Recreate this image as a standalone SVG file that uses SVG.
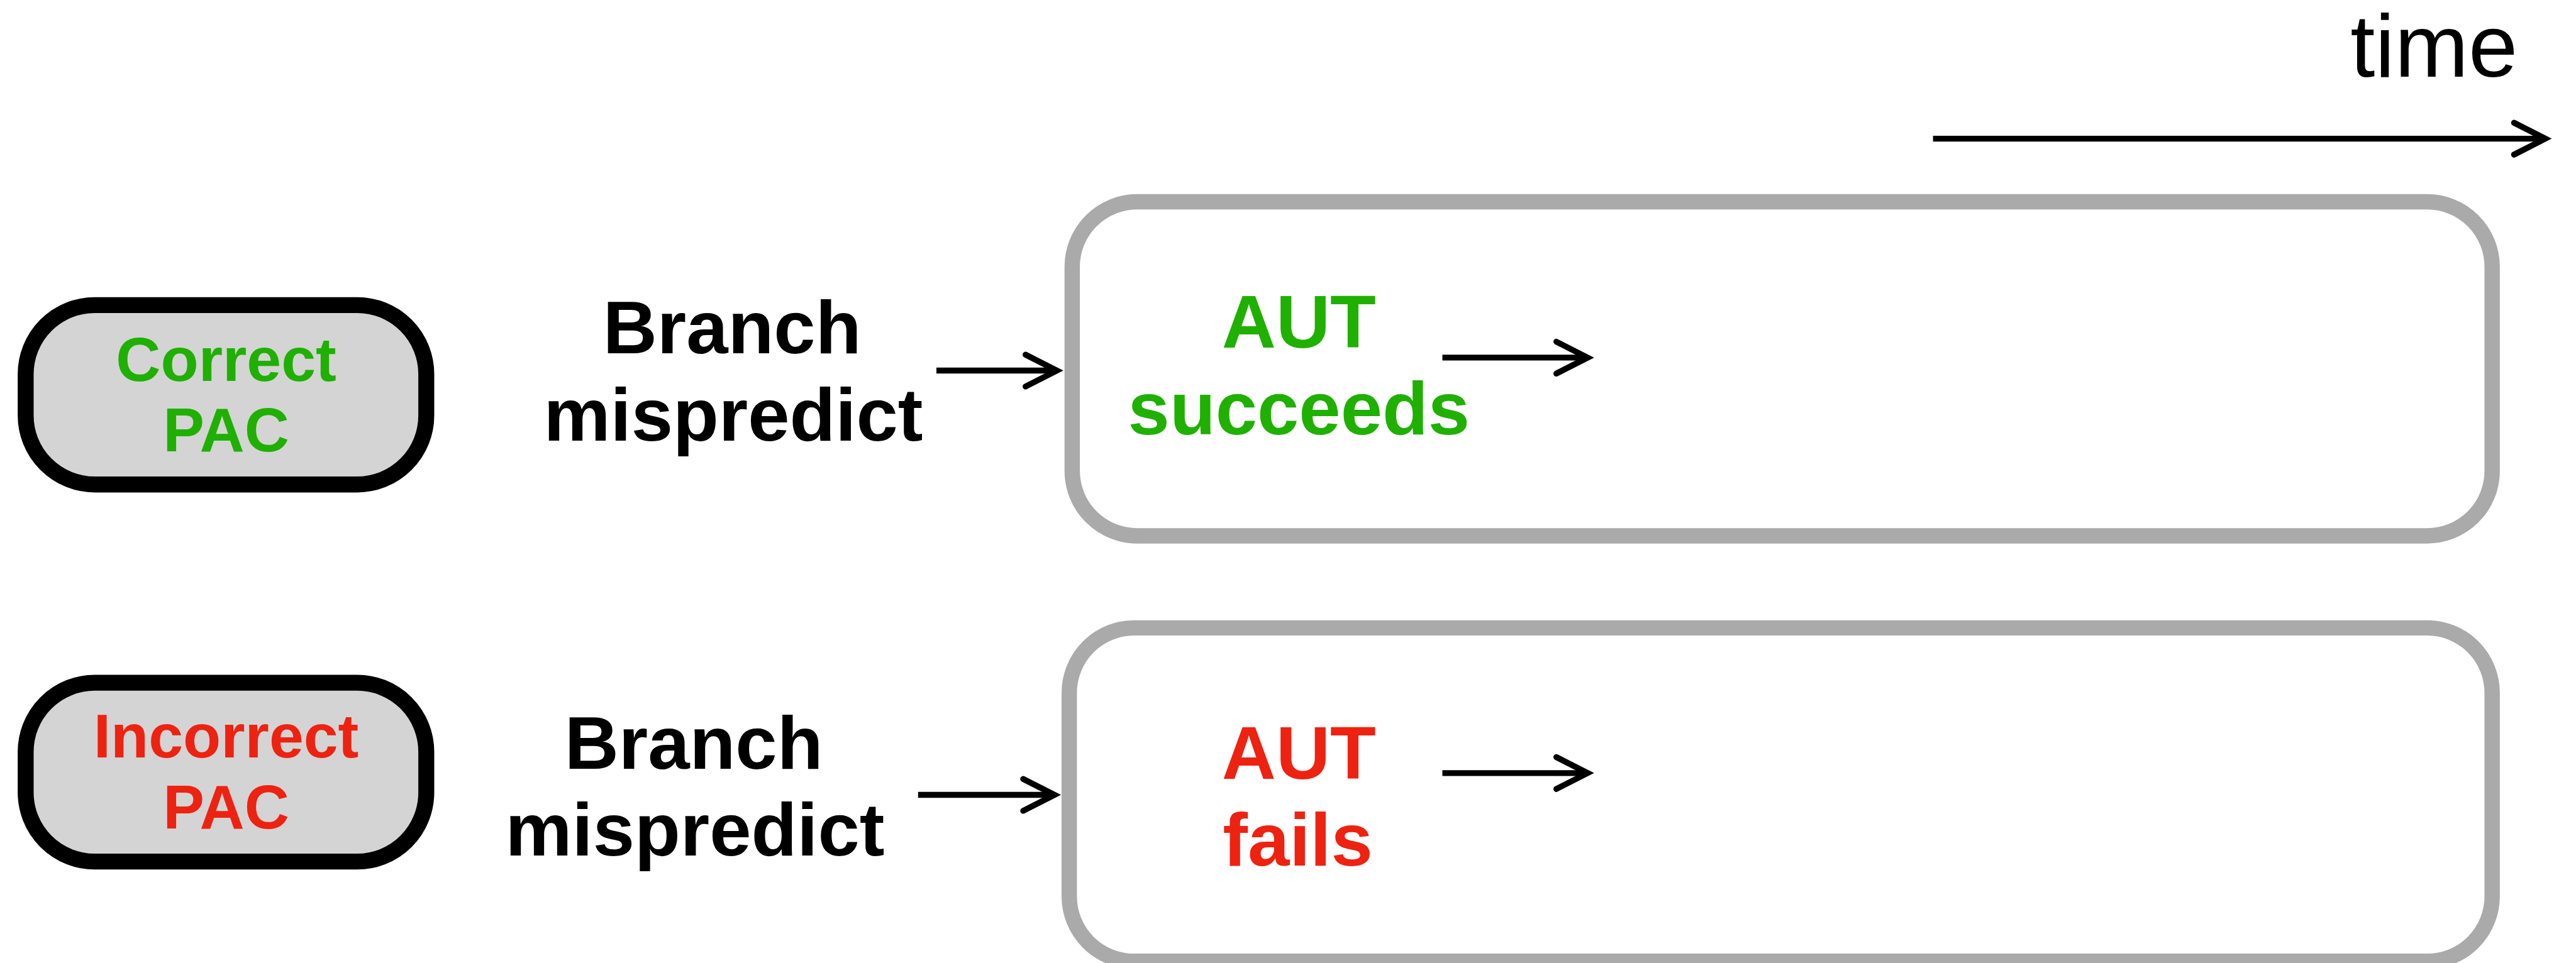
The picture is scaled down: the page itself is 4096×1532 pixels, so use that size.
<svg xmlns="http://www.w3.org/2000/svg" width="4096" height="1532" viewBox="0 0 4096 1532">
<style>
.pac{fill:#d4d4d4;stroke:#000;stroke-width:27}
.stage{fill:#fff;stroke:#aaaaaa;stroke-width:26}
.t{font-family:"Liberation Sans",Arial,sans-serif;font-weight:bold;text-anchor:middle}
.s105{font-size:105px}
.s127{font-size:127px}
.green{fill:#1fb000}
.red{fill:#ee2211}
.black{fill:#000}
.arr{stroke:#000;stroke-width:10;fill:none;marker-end:url(#chev)}
</style>
<defs>
<marker id="chev" viewBox="-8 -4 10 8" refX="0" refY="0" markerWidth="10" markerHeight="8" markerUnits="strokeWidth" orient="auto" overflow="visible">
<path d="M-5.3,-2.7 L0,0 L-5.3,2.7" fill="none" stroke="#000" stroke-width="1" stroke-linecap="round" stroke-linejoin="miter"/>
</marker>
</defs>
<rect width="4096" height="1532" fill="#fff"/>
<g transform="scale(0.93880)">
<g id="correct-pac">
<rect class="pac" x="43.5" y="517" width="678.5" height="304" rx="117" ry="117"/>
<text class="t s105 green" x="383" y="645">Correct</text>
<text class="t s105 green" x="383" y="765">PAC</text>
</g>
<g id="incorrect-pac">
<rect class="pac" x="43.5" y="1157" width="678.5" height="303" rx="117" ry="117"/>
<text class="t s105 red" x="383" y="1284">Incorrect</text>
<text class="t s105 red" x="383" y="1404">PAC</text>
</g>
<g id="label-top">
<text class="t s127 black" x="1240" y="599">Branch</text>
<text class="t s127 black" x="1242" y="747">mispredict</text>
</g>
<g id="label-bottom">
<text class="t s127 black" x="1175" y="1303">Branch</text>
<text class="t s127 black" x="1177" y="1450">mispredict</text>
</g>
<g id="stage-top">
<rect class="stage" x="1816" y="342" width="2405" height="566" rx="110" ry="110"/>
<text class="t s127 green" x="2200" y="589">AUT</text>
<text class="t s127 green" x="2200" y="736">succeeds</text>
</g>
<g id="stage-bottom">
<rect class="stage" x="1811" y="1064" width="2410" height="565" rx="110" ry="110"/>
<text class="t s127 red" x="2200" y="1320">AUT</text>
<text class="t s127 red" x="2198" y="1467">fails</text>
</g>
<g id="time-label">
<text x="3981" y="130" font-family="Liberation Sans, Arial, sans-serif" font-size="150" fill="#000">time</text>
</g>
<g id="connectors">
<line class="arr" x1="3274" y1="235" x2="4311" y2="235"/>
<line class="arr" x1="1586" y1="628" x2="1790" y2="628"/>
<line class="arr" x1="1555" y1="1347" x2="1786" y2="1347"/>
<line class="arr" x1="2443" y1="606" x2="2689" y2="606"/>
<line class="arr" x1="2443" y1="1310" x2="2689" y2="1310"/>
</g>
</g>
</svg>
